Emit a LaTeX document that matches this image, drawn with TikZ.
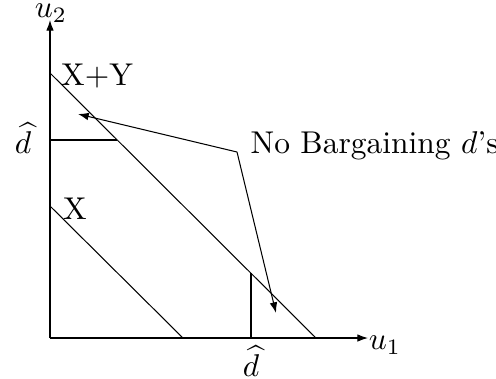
\documentclass[tikz,border=0pt]{standalone}
\usetikzlibrary{arrows.meta}
\begin{document}
\begin{tikzpicture}[x=0.3175pt,y=-0.3175pt,
  ln/.style={line width=0.33pt},
  arr/.style={ln,-{Latex[length=3.4pt,width=2.4pt]}},
  lbl/.style={inner sep=0pt}]
\useasboundingbox (0,0) rectangle (496,378);
% coordinates
\coordinate (O) at (50,338);
\coordinate (Ytop) at (50,20);
\coordinate (Xend) at (368,338);
\coordinate (XYa) at (50,73);
\coordinate (XYb) at (316,338);
\coordinate (Xa) at (50,206);
\coordinate (Xb) at (183,338);
\coordinate (Dh) at (50,140);
\coordinate (DhE) at (117,140);
\coordinate (Dv) at (251,338);
\coordinate (DvE) at (251,273);
\coordinate (K) at (237,152);
\coordinate (T1) at (78,114);
\coordinate (T2) at (276,313);
% axes
\draw[arr] (O) -- (Ytop);
\draw[arr] (O) -- (Xend);
% frontiers
\draw[ln] (XYa) -- (XYb);
\draw[ln] (Xa) -- (Xb);
% d-hat lines
\draw[ln] (Dh) -- (DhE);
\draw[ln] (Dv) -- (DvE);
% no bargaining arrows
\draw[arr] (K) -- (T1);
\draw[arr] (K) -- (T2);
% labels
\node[lbl] (u2) at (51,13) {$u_2$};
\node[lbl] (u1) at (385,345) {$u_1$};
\node[lbl] (dl) at (23,138) {$\widehat{d}$};
\node[lbl] (db) at (251,361) {$\widehat{d}$};
\node[lbl] (xy) at (97,76) {X+Y};
\node[lbl] (x) at (75,209) {X};
\node[lbl,anchor=base west] (nb) at (250,153) {No Bargaining $d$'s};
\end{tikzpicture}
\end{document}
